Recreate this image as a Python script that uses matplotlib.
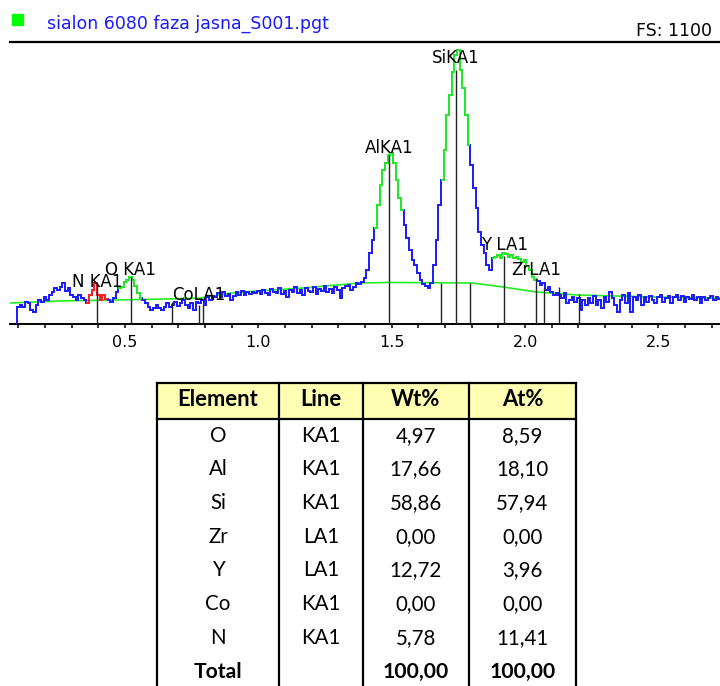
import numpy as np
import matplotlib
matplotlib.use("Agg")
import matplotlib.pyplot as plt
from matplotlib.lines import Line2D
from matplotlib.patches import Rectangle
from matplotlib.ticker import MultipleLocator, FuncFormatter

# ---------------- data ----------------
title = "sialon 6080 faza jasna_S001.pgt"
fs_text = "FS: 1100"
full_scale = 1100

ch_start = 0.095   # lower edge of first channel (keV)
ch_width = 0.01    # channel width (keV)
counts = [
    66, 74, 66, 86, 82, 55, 47, 74, 94, 86,
    105, 94, 113, 125, 140, 133, 144, 160, 130, 140,
    113, 105, 94, 113, 101, 94, 82, 113, 133, 160,
    113, 94, 113, 98, 94, 86, 101, 125, 140, 144,
    164, 172, 183, 172, 148, 121, 101, 94, 82, 66,
    55, 62, 74, 62, 55, 66, 82, 66, 74, 86,
    70, 82, 94, 74, 62, 82, 55, 86, 82, 94,
    74, 105, 94, 109, 105, 121, 105, 125, 109, 117,
    94, 109, 125, 113, 129, 113, 125, 117, 125, 121,
    129, 117, 133, 121, 113, 137, 125, 121, 140, 117,
    129, 105, 133, 125, 144, 121, 133, 113, 140, 129,
    125, 144, 117, 137, 129, 148, 125, 137, 121, 144,
    133, 101, 140, 148, 152, 133, 144, 160, 156, 164,
    179, 211, 277, 328, 374, 464, 542, 601, 628, 659,
    667, 628, 562, 491, 445, 386, 335, 289, 250, 230,
    199, 172, 156, 148, 140, 160, 230, 328, 464, 562,
    679, 815, 893, 983, 1049, 1069, 991, 920, 815, 698,
    620, 530, 452, 359, 308, 277, 230, 211, 257, 261,
    269, 257, 277, 273, 261, 269, 257, 261, 253, 242,
    250, 226, 211, 183, 172, 168, 152, 160, 133, 144,
    125, 113, 121, 113, 101, 121, 82, 94, 105, 86,
    101, 55, 94, 74, 101, 82, 109, 74, 94, 62,
    105, 86, 125, 101, 74, 47, 94, 113, 82, 121,
    47, 105, 94, 113, 74, 105, 86, 109, 94, 82,
    105, 113, 86, 101, 109, 82, 105, 113, 94, 109,
    86, 105, 98, 113, 94, 105, 82, 105, 94, 101,
    109, 94, 105, 98,
]

bg_energy = [0.07, 0.26, 0.48, 0.67, 0.78, 0.90, 1.00, 1.16, 1.38, 1.50, 1.80, 1.92, 2.04, 2.20, 2.50, 2.74]
bg_counts = [82, 90, 94, 98, 101, 121, 129, 140, 160, 162, 160, 144, 125, 113, 105, 101]

roi_green = [(0.48, 0.56), (1.44, 1.54), (1.69, 1.79), (1.88, 2.04)]
roi_red = [(0.36, 0.43)]

line_energy = [0.394, 0.522, 0.677, 0.776, 0.791, 1.490, 1.686, 1.740, 1.792, 1.922, 2.042, 2.070, 2.126, 2.202]
line_height = [152, 183, 86, 74, 74, 660, 160, 991, 160, 265, 179, 140, 144, 117]

label_text = ["N KA1", "O KA1", "CoLA1", "AlKA1", "SiKA1", "Y LA1", "ZrLA1"]
label_energy = [0.394, 0.522, 0.776, 1.490, 1.740, 1.922, 2.042]
label_y = [144, 191, 94, 667, 1018, 289, 191]

table_header = ["Element", "Line", "Wt%", "At%"]
elements = ["O", "Al", "Si", "Zr", "Y", "Co", "N"]
lines_ = ["KA1", "KA1", "KA1", "LA1", "LA1", "KA1", "KA1"]
wt = ["4,97", "17,66", "58,86", "0,00", "12,72", "0,00", "5,78"]
at = ["8,59", "18,10", "57,94", "0,00", "3,96", "0,00", "11,41"]
total_row = ["Total", "", "100,00", "100,00"]

# ---------------- figure ----------------
W, H = 720, 686
fig = plt.figure(figsize=(W / 100, H / 100), dpi=100)
fig.patch.set_facecolor("white")

def fx(x):
    return x / W

def fy(y):
    return 1 - y / H

BLUE = "#1a1aff"
GREEN = "#22ee22"
RED = "#ff2020"

ax = fig.add_axes([fx(10), fy(324), fx(720) - fx(10), fy(42) - fy(324)])
ax.set_xlim(0.0686, 2.7308)
ax.set_ylim(0, full_scale)

counts_arr = np.array(counts, dtype=float)
edges = ch_start + ch_width * np.arange(len(counts_arr) + 1)
centers = edges[:-1] + ch_width / 2

# background
ax.plot(bg_energy, bg_counts, color=GREEN, lw=1.2, zorder=2)

# spectrum
ax.stairs(counts_arr, edges, baseline=0, color=BLUE, lw=1.4, zorder=3)

def overlay(lo, hi, color):
    m = (centers >= lo - 1e-9) & (centers <= hi + 1e-9)
    idx = np.where(m)[0]
    ax.stairs(counts_arr[idx], edges[idx[0]:idx[-1] + 2], baseline=None,
              color=color, lw=1.4, zorder=4)

for lo, hi in roi_green:
    overlay(lo, hi, GREEN)
for lo, hi in roi_red:
    overlay(lo, hi, RED)

# marker lines
ax.vlines(line_energy, 0, line_height, color="#222222", lw=1.0, zorder=5)

for t, e, yv in zip(label_text, label_energy, label_y):
    ax.text(e, yv, t, ha="center", va="baseline", fontsize=12,
            family="DejaVu Sans", color="black", zorder=6)

# axes styling
for s in ["left", "right"]:
    ax.spines[s].set_visible(False)
ax.spines["top"].set_linewidth(1.6)
ax.spines["bottom"].set_linewidth(1.4)
ax.set_yticks([])
ax.xaxis.set_major_locator(MultipleLocator(0.1))

def fmt(v, pos):
    r = round(v * 10)
    return f"{v:.1f}" if r % 5 == 0 and r > 0 else ""

ax.xaxis.set_major_formatter(FuncFormatter(fmt))
ax.tick_params(axis="x", direction="out", length=3, width=1.1, labelsize=11.5, pad=5)

# header
fig.patches.append(Rectangle((fx(12), fy(25)), fx(11), fy(14) - fy(25),
                             transform=fig.transFigure, color="#00ff00"))
fig.text(fx(47), fy(29), title, color=BLUE, fontsize=12.5, va="baseline", ha="left")
fig.text(fx(712), fy(36), fs_text, color="black", fontsize=12.5, va="baseline", ha="right")

# ---------------- table ----------------
col_x = [157, 279, 363, 469, 576]
top, head_bot = 383, 419
row_h = 33.7
first_center = 435.7
fig.patches.append(Rectangle((fx(col_x[0]), fy(head_bot)), fx(col_x[-1]) - fx(col_x[0]),
                             fy(top) - fy(head_bot), transform=fig.transFigure,
                             facecolor="#ffffb3", edgecolor="none"))
lw_t = 1.6
fig.add_artist(Line2D([fx(col_x[0]), fx(col_x[-1])], [fy(top), fy(top)], color="black", lw=lw_t))
fig.add_artist(Line2D([fx(col_x[0]), fx(col_x[-1])], [fy(head_bot), fy(head_bot)], color="black", lw=lw_t))
for cx in col_x:
    fig.add_artist(Line2D([fx(cx), fx(cx)], [fy(top), fy(H + 5)], color="black", lw=lw_t))

centers_x = [(col_x[i] + col_x[i + 1]) / 2 for i in range(4)]
TFONT = "Lato"
for cxp, h in zip(centers_x, table_header):
    fig.text(fx(cxp), fy(400), h, ha="center", va="center", fontsize=15.8,
             family=TFONT, weight="bold")

rows = list(zip(elements, lines_, wt, at))
for i, r in enumerate(rows):
    yc = first_center + i * row_h
    for cxp, v in zip(centers_x, r):
        fig.text(fx(cxp), fy(yc), v, ha="center", va="center", fontsize=14.8, family=TFONT)

yc = first_center + len(rows) * row_h
for cxp, v in zip(centers_x, total_row):
    if v:
        fig.text(fx(cxp), fy(yc), v, ha="center", va="center", fontsize=15.2,
                 family=TFONT, weight="bold")

fig.savefig("out.png", dpi=100)
